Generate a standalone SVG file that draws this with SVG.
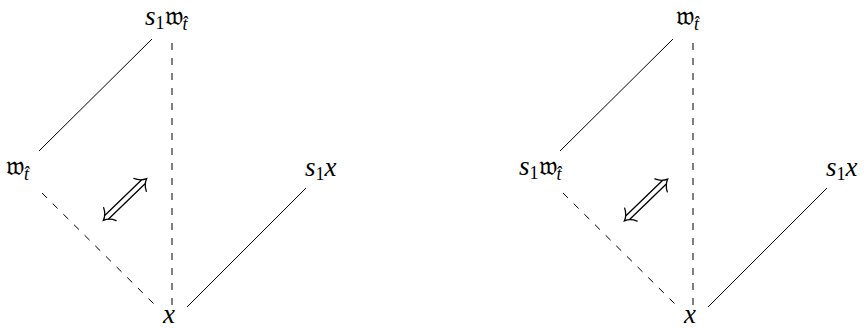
<svg xmlns="http://www.w3.org/2000/svg" width="864" height="328" viewBox="0 0 864 328">
<style>
.t{font-family:"Liberation Serif","DejaVu Serif","Noto Sans",serif;font-size:27px;fill:#000}
.it{font-style:italic;font-family:"Liberation Serif",serif}
.sub{font-size:18px}
.solid{stroke:#000;stroke-width:1;fill:none}
.dash{stroke:#000;stroke-width:1;fill:none;stroke-dasharray:7 8}
.dbl{stroke:#000;stroke-width:1.3;fill:none;stroke-linecap:round}
</style>
<defs>
<g id="dblarrow">
<path class="dbl" d="M-25,-2.6 L25,-2.6 M-25,2.6 L25,2.6"/>
<path class="dbl" d="M21,-9 Q24,-2.5 30,0 Q24,2.5 21,9"/>
<path class="dbl" d="M-21,-9 Q-24,-2.5 -30,0 Q-24,2.5 -21,9"/>
</g>
</defs>
<g id="connectors">
<line class="solid" x1="152" y1="39" x2="39" y2="151"/>
<line class="dash" x1="172" y1="43" x2="172" y2="307"/>
<line class="dash" x1="42" y1="193" x2="157" y2="307"/>
<line class="solid" x1="306" y1="188" x2="187" y2="307"/>
<use href="#dblarrow" transform="translate(125,199.5) rotate(-44)"/>
<line class="solid" x1="673" y1="39" x2="560" y2="151"/>
<line class="dash" x1="693" y1="43" x2="693" y2="307"/>
<line class="dash" x1="563" y1="193" x2="678" y2="307"/>
<line class="solid" x1="827" y1="188" x2="708" y2="307"/>
<use href="#dblarrow" transform="translate(646,200) rotate(-44)"/>
</g>
<g id="n-top-left"><text class="t" x="145" y="25"><tspan class="it">s</tspan><tspan class="sub" dy="4">1</tspan><tspan dy="-4">𝔴</tspan><tspan class="sub it" dy="5">t̂</tspan></text></g>
<g id="n-left-left"><text class="t" x="6" y="175"><tspan>𝔴</tspan><tspan class="sub it" dy="5">t̂</tspan></text></g>
<g id="n-right-left"><text class="t" x="305" y="176"><tspan class="it">s</tspan><tspan class="sub" dy="4">1</tspan><tspan class="it" dy="-4">x</tspan></text></g>
<g id="n-bottom-left"><text class="t it" x="169" y="323" text-anchor="middle">x</text></g>
<g id="n-top-right"><text class="t" x="676" y="25"><tspan>𝔴</tspan><tspan class="sub it" dy="5">t̂</tspan></text></g>
<g id="n-left-right"><text class="t" x="519" y="175"><tspan class="it">s</tspan><tspan class="sub" dy="4">1</tspan><tspan dy="-4">𝔴</tspan><tspan class="sub it" dy="5">t̂</tspan></text></g>
<g id="n-right-right"><text class="t" x="826" y="176"><tspan class="it">s</tspan><tspan class="sub" dy="4">1</tspan><tspan class="it" dy="-4">x</tspan></text></g>
<g id="n-bottom-right"><text class="t it" x="690" y="323" text-anchor="middle">x</text></g>
</svg>
